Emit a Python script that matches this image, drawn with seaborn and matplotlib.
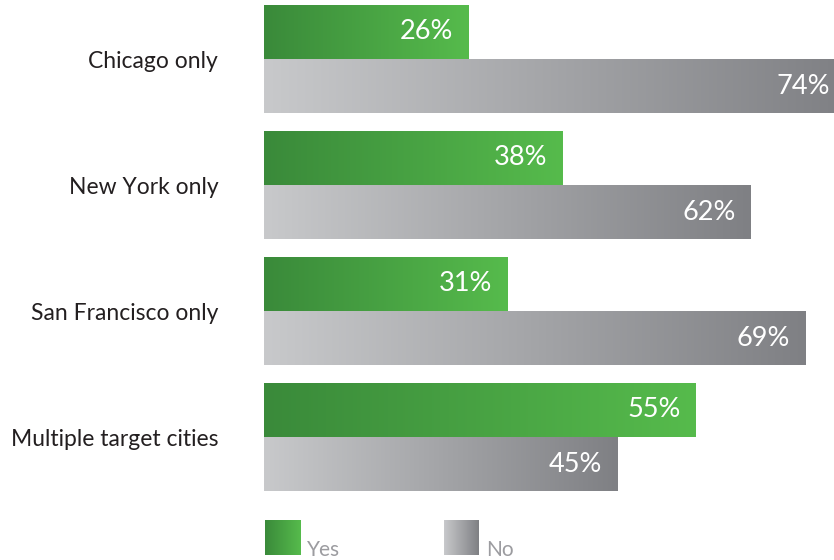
import numpy as np
import pandas as pd
import matplotlib
matplotlib.use("Agg")
import matplotlib.pyplot as plt
from matplotlib.colors import LinearSegmentedColormap
import seaborn as sns

# Survey results by target market
categories = ["Chicago only", "New York only", "San Francisco only", "Multiple target cities"]
yes_values = [26, 38, 31, 55]
no_values = [74, 62, 69, 45]
series = ["Yes", "No"]

sns.set_theme(style="white")
plt.rcParams["font.family"] = ["Lato", "DejaVu Sans"]

df = pd.DataFrame({
    "category": categories * 2,
    "answer": ["Yes"] * len(categories) + ["No"] * len(categories),
    "value": yes_values + no_values,
})

green_cmap = LinearSegmentedColormap.from_list("green", ["#3a8a3a", "#56bb4c"])
gray_cmap = LinearSegmentedColormap.from_list("gray", ["#c8c9cb", "#7f8084"])
flat = {"Yes": "#48a343", "No": "#a4a5a8"}
cmaps = {"Yes": green_cmap, "No": gray_cmap}

W, H = 834, 560
fig = plt.figure(figsize=(W / 100, H / 100), dpi=100)
x0_px = 264
ax = fig.add_axes([x0_px / W, 0, (W - x0_px) / W, 1])

sns.barplot(data=df, x="value", y="category", hue="answer", hue_order=series,
            palette=flat, orient="h", width=0.86, gap=0, legend=False, ax=ax,
            saturation=1, linewidth=0)

px_per_unit = 7.85
xmax = (W - x0_px) / px_per_unit
spacing = 126.0
top_center = 59.0
ylo = -top_center / spacing
yhi = (H - top_center) / spacing

grad = np.linspace(0, 1, 256).reshape(1, -1)
labels_info = []
for patch in list(ax.patches):
    fc = patch.get_facecolor()
    key = "Yes" if fc[1] > fc[0] + 0.1 else "No"
    bx, by = patch.get_x(), patch.get_y()
    bw, bh = patch.get_width(), patch.get_height()
    im = ax.imshow(grad, cmap=cmaps[key], aspect="auto",
                   extent=[bx, bx + bw, by + bh, by], interpolation="bilinear",
                   zorder=patch.get_zorder() + 0.1)
    im.set_clip_path(patch)
    labels_info.append((bx + bw, by + bh / 2, bw))

for xe, yc, val in labels_info:
    ax.annotate(f"{val:.0f}%", xy=(xe, yc), xytext=(-11, 0),
                textcoords="offset points", ha="right", va="center",
                color="white", fontsize=19.5, zorder=5, annotation_clip=False)

ax.set_xlim(0, xmax)
ax.set_ylim(yhi, ylo)
ax.set_xlabel("")
ax.set_ylabel("")
ax.set_xticks([])
for s in ax.spines.values():
    s.set_visible(False)
ax.tick_params(axis="y", length=0, pad=33, labelsize=16.5, labelcolor="#231f20")

# Legend with gradient swatches
leg_items = [("Yes", 265), ("No", 444)]
for name, lx in leg_items:
    sax = fig.add_axes([lx / W, 1 - 555 / H, 35 / W, 35 / H])
    sax.imshow(grad, cmap=cmaps[name], aspect="auto", interpolation="bilinear")
    sax.axis("off")
    fig.text((lx + 42) / W, 1 - 556 / H, name, ha="left", va="baseline",
             fontsize=15, color="#9c9ca0")

fig.savefig("out.png", dpi=100)
